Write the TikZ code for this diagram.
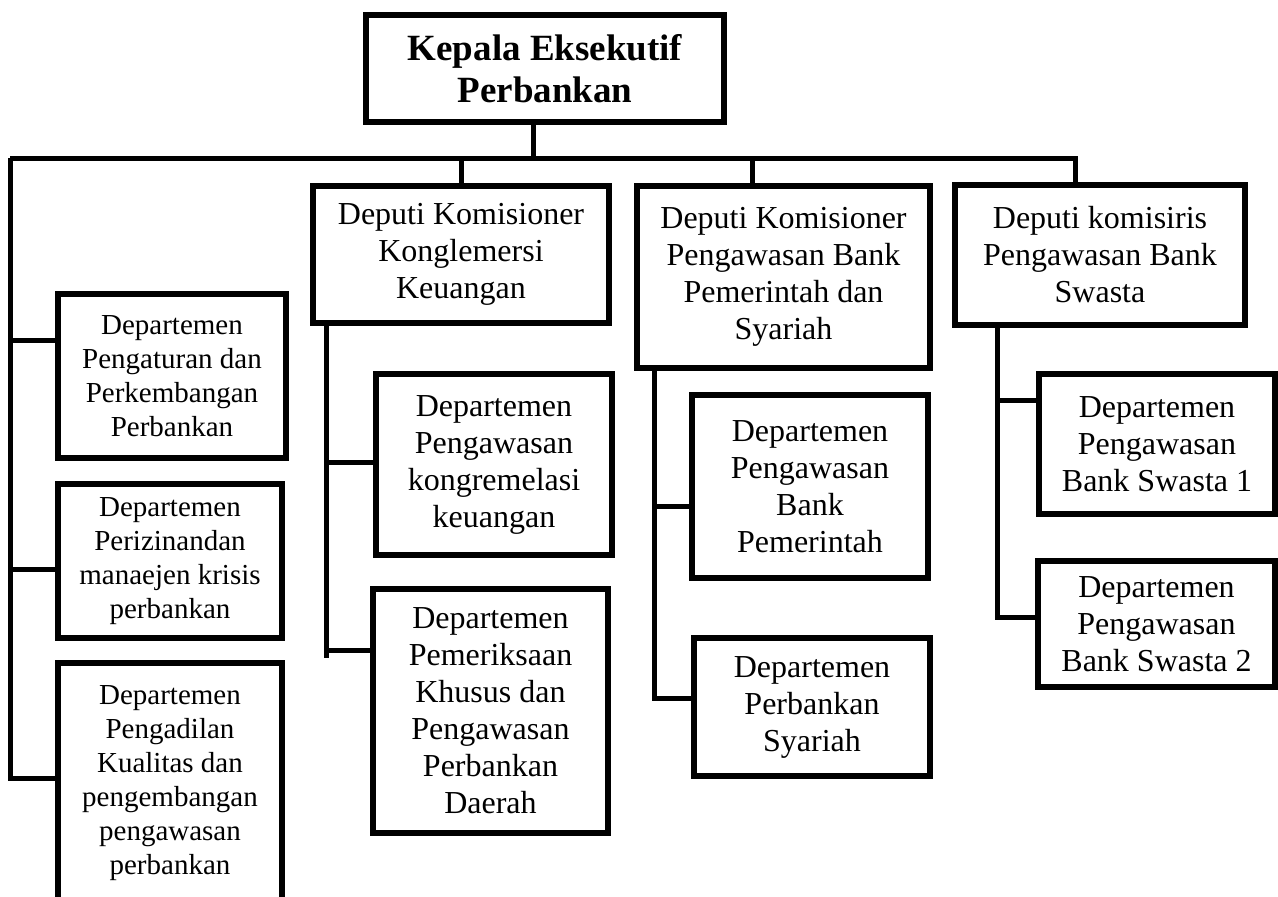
\documentclass[tikz,border=0pt]{standalone}
\usepackage{fontspec}
\setmainfont{Liberation Serif}
\usetikzlibrary{positioning}

\begin{document}
\begin{tikzpicture}[x=1pt,y=-1pt,
  box/.style={draw,line width=6pt,align=center,inner sep=0pt,
    font=\fontsize{32}{37}\selectfont},
  leftbox/.style={box,font=\fontsize{29}{34}\selectfont},
  line/.style={line width=5pt}]

\useasboundingbox (0,0) rectangle (1278,897);

\node[box,minimum width=358,minimum height=107,
  font=\fontsize{37}{42}\selectfont\bfseries] (kepala) at (545,68.5)
  {Kepala Eksekutif\\Perbankan};

\node[box,minimum width=296,minimum height=137] (dkong) at (461,254.5)
  {Deputi Komisioner\\Konglemersi\\Keuangan};
\node[box,minimum width=293,minimum height=182] (dpem) at (783.5,277)
  {Deputi Komisioner\\Pengawasan Bank\\Pemerintah dan\\Syariah};
\node[box,minimum width=290,minimum height=140] (dswa) at (1100,255)
  {Deputi komisiris\\Pengawasan Bank\\Swasta};

\node[leftbox,minimum width=228,minimum height=164] (l1) at (172,376)
  {Departemen\\Pengaturan dan\\Perkembangan\\Perbankan};
\node[leftbox,minimum width=224,minimum height=154] (l2) at (170,561)
  {Departemen\\Perizinandan\\manaejen krisis\\perbankan};
\node[leftbox,minimum width=224,minimum height=240] (l3) at (170,783)
  {Departemen\\Pengadilan\\Kualitas dan\\pengembangan\\pengawasan\\perbankan};

\node[box,minimum width=236,minimum height=181] (k1) at (494,464.5)
  {Departemen\\Pengawasan\\kongremelasi\\keuangan};
\node[box,minimum width=235,minimum height=244] (k2) at (490.5,711)
  {Departemen\\Pemeriksaan\\Khusus dan\\Pengawasan\\Perbankan\\Daerah};

\node[box,minimum width=236,minimum height=183] (p1) at (810,486.5)
  {Departemen\\Pengawasan\\Bank\\Pemerintah};
\node[box,minimum width=236,minimum height=138] (p2) at (812,707)
  {Departemen\\Perbankan\\Syariah};

\node[box,minimum width=236,minimum height=140] (s1) at (1157,444)
  {Departemen\\Pengawasan\\Bank Swasta 1};
\node[box,minimum width=237,minimum height=126] (s2) at (1156.5,624)
  {Departemen\\Pengawasan\\Bank Swasta 2};

\coordinate (hub) at (533,158);
\coordinate (busL) at (10,158);
\coordinate (busR) at (1075,158);
\coordinate (bpem) at (752,158);

\draw[line] (kepala.south -| hub) -- (hub);
\draw[line] (busL) -- (busR) -- (dswa.north -| busR);
\draw[line] (dkong.north) -- (dkong.north |- hub);
\draw[line] (bpem) -- (bpem |- dpem.north);

\coordinate (jl1) at (10,340);
\coordinate (jl2) at (10,569);
\coordinate (jl3) at (10,778);

\draw[line] (busL) -- (jl3) -- (jl3 -| l3.west);
\draw[line] (jl1) -- (jl1 -| l1.west);
\draw[line] (jl2) -- (jl2 -| l2.west);

\coordinate (jk1) at (326,462);
\coordinate (jk2) at (326,650);
\coordinate (kend) at (326,658);

\draw[line] (kend |- dkong.south) -- (kend);
\draw[line] (jk1) -- (jk1 -| k1.west);
\draw[line] (jk2) -- (jk2 -| k2.west);

\coordinate (jp1) at (654,506);
\coordinate (jp2) at (654,698);

\draw[line] (jp2 |- dpem.south) -- (jp2) -- (jp2 -| p2.west);
\draw[line] (jp1) -- (jp1 -| p1.west);

\coordinate (js1) at (997,400);
\coordinate (js2) at (997,617);

\draw[line] (js2 |- dswa.south) -- (js2) -- (js2 -| s2.west);
\draw[line] (js1) -- (js1 -| s1.west);

\end{tikzpicture}
\end{document}
